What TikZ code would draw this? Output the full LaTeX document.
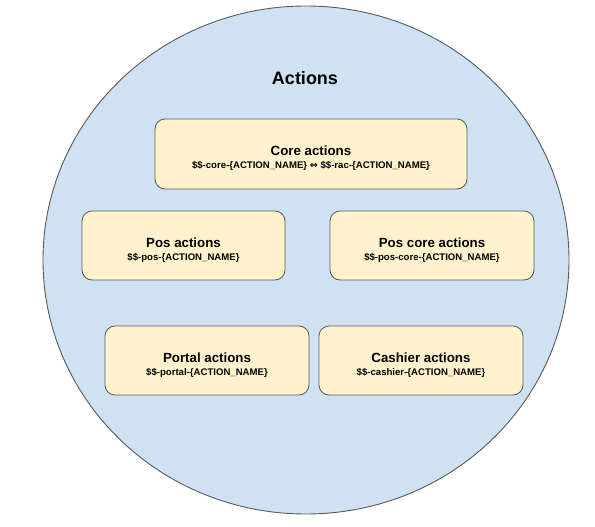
\documentclass[tikz,border=0pt]{standalone}
\usepackage{fontspec}
\setmainfont{Liberation Sans}
\newfontfamily\symfont{DejaVu Sans}
\usetikzlibrary{shapes.geometric}
\definecolor{circfill}{HTML}{CFE2F3}
\definecolor{boxfill}{HTML}{FFF2CC}
\definecolor{edgegray}{HTML}{595959}
\tikzset{
  container/.style={ellipse, draw=edgegray, line width=0.9pt, fill=circfill, inner sep=0pt},
  actbox/.style={draw=edgegray, line width=0.8pt, fill=boxfill, rounded corners=10pt,
    align=center, inner sep=0pt, font=\bfseries},
  ttl/.style={font=\fontsize{18}{20}\selectfont\bfseries}
}
\newcommand{\boxtext}[2]{{\fontsize{13.3}{15}\selectfont\rule{0pt}{18pt}#1}\\[1pt]{\fontsize{9.6}{11}\selectfont #2}}
\begin{document}
\begin{tikzpicture}[x=1pt, y=-1pt]
\useasboundingbox (0,0) rectangle (595,527);
\node[container, minimum width=526pt, minimum height=508pt] (circ) at (306,260) {};
\node[ttl] (title) at (305,78) {Actions};
\node[actbox, minimum width=312pt, minimum height=70pt] (core) at (311,154)
  {\boxtext{Core actions}{\$\$-core-\{ACTION\_NAME\} {\symfont ⇔} \$\$-rac-\{ACTION\_NAME\}}};
\node[actbox, minimum width=203pt, minimum height=69pt] (pos) at (183.5,245.5)
  {\boxtext{Pos actions}{\$\$-pos-\{ACTION\_NAME\}}};
\node[actbox, minimum width=204pt, minimum height=69pt] (poscore) at (432,245.5)
  {\boxtext{Pos core actions}{\$\$-pos-core-\{ACTION\_NAME\}}};
\node[actbox, minimum width=204pt, minimum height=69pt] (portal) at (207,360.5)
  {\boxtext{Portal actions}{\$\$-portal-\{ACTION\_NAME\}}};
\node[actbox, minimum width=204pt, minimum height=69pt] (cashier) at (421,360.5)
  {\boxtext{Cashier actions}{\$\$-cashier-\{ACTION\_NAME\}}};
\end{tikzpicture}
\end{document}
